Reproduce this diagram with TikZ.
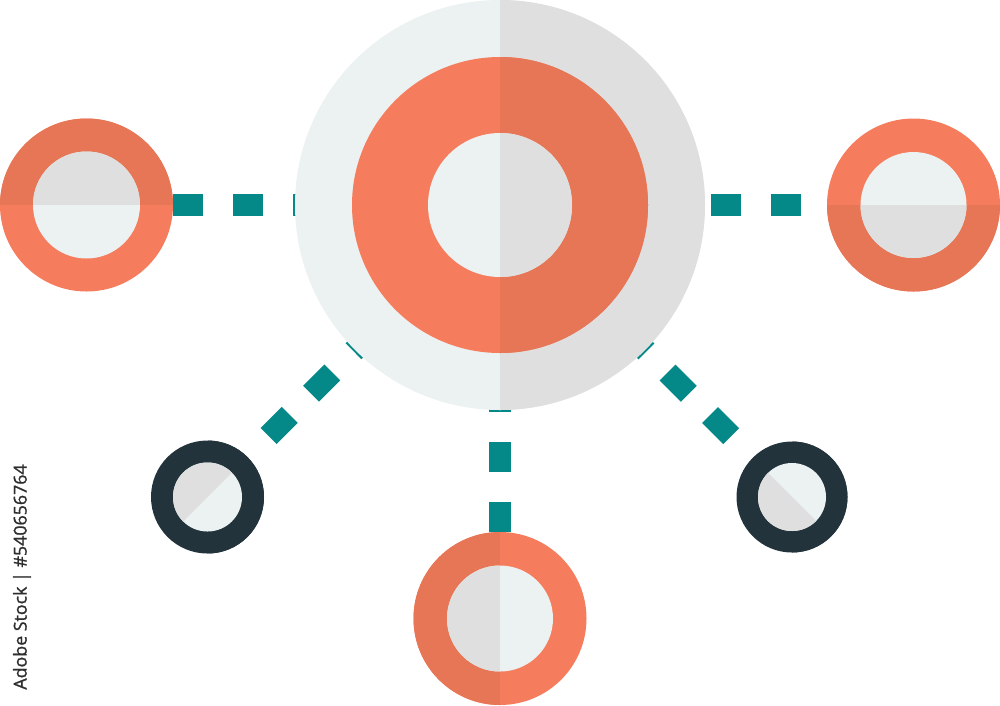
\documentclass[tikz,border=0pt]{standalone}
\usepackage{fontspec}
\newfontfamily\stockfont{Open Sans}[BoldFont={Open Sans}, BoldFeatures={FakeBold=1.2}]
\usetikzlibrary{backgrounds}

\definecolor{paleLight}{HTML}{ECF1F1}
\definecolor{paleDark}{HTML}{DEDFDE}
\definecolor{coralLight}{HTML}{F57C5C}
\definecolor{coralDark}{HTML}{E67656}
\definecolor{tealLink}{HTML}{048888}
\definecolor{inkDark}{HTML}{22333B}
\definecolor{stockGray}{HTML}{2E2E2E}

\tikzset{
	disc/.style n args={4}{circle, inner sep=0pt, minimum size=#1, fill=#2,
		path picture={\fill[#3] (path picture bounding box.center) ++(#4+90:300)
			-- ++(#4:300) -- ++(#4-90:600) -- ++(#4+180:300) -- cycle;}},
	link/.style={draw=tealLink, line width=22.5pt, dash pattern=on 30pt off 30pt}
}

\begin{document}
\begin{tikzpicture}[x=1pt, y=-1pt]
			
			\useasboundingbox (0,0) rectangle (1000,705);
			
			%Hub
			\node[disc={410pt}{paleLight}{paleDark}{0}] (hubDisc) at (500,205) {};
			\node[disc={296pt}{coralLight}{coralDark}{0}] (hubRing) at (500,205) {};
			\node[disc={144pt}{paleLight}{paleDark}{0}] (hubCore) at (500,205) {};
			
			%Orange satellites
			\node[disc={173pt}{coralLight}{coralDark}{270}] (leftRing) at (86.5,205) {};
			\node[disc={107pt}{paleLight}{paleDark}{270}] (leftCore) at (86.5,205) {};
			\node[disc={173pt}{coralLight}{coralDark}{90}] (rightRing) at (913.5,205) {};
			\node[disc={106pt}{paleLight}{paleDark}{90}] (rightCore) at (913.5,205) {};
			\node[disc={173pt}{coralLight}{coralDark}{180}] (bottomRing) at (500,618.5) {};
			\node[disc={106pt}{paleLight}{paleDark}{180}] (bottomCore) at (500,618.5) {};
			
			%Dark satellites
			\node[disc={113pt}{inkDark}{inkDark}{0}] (lowLeftRing) at (207.5,497) {};
			\node[disc={69pt}{paleLight}{paleDark}{225}] (lowLeftCore) at (207.5,497) {};
			\node[disc={111pt}{inkDark}{inkDark}{0}] (lowRightRing) at (792,497) {};
			\node[disc={68pt}{paleLight}{paleDark}{135}] (lowRightCore) at (792,497) {};
			
			%Links
			\begin{scope}[on background layer]
			\draw[link, dash phase=3pt] (hubDisc.center) -- (leftRing.center);
			\draw[link, dash phase=29pt] (hubDisc.center) -- (rightRing.center);
			\draw[link, dash phase=3pt] (hubDisc.center) -- (bottomRing.center);
			\draw[link, dash phase=3pt, shorten >=60pt] (hubDisc.center) -- (lowLeftRing.center);
			\draw[link, dash phase=3pt, shorten >=60pt] (hubDisc.center) -- (lowRightRing.center);
			\end{scope}
			
			%Stock label
			\node[rotate=90, text=stockGray, font=\stockfont\bfseries\fontsize{17.8}{20}\selectfont] (stockLabel) at (22,577) {Adobe Stock | \#540656764};
			
\end{tikzpicture}
\end{document}
